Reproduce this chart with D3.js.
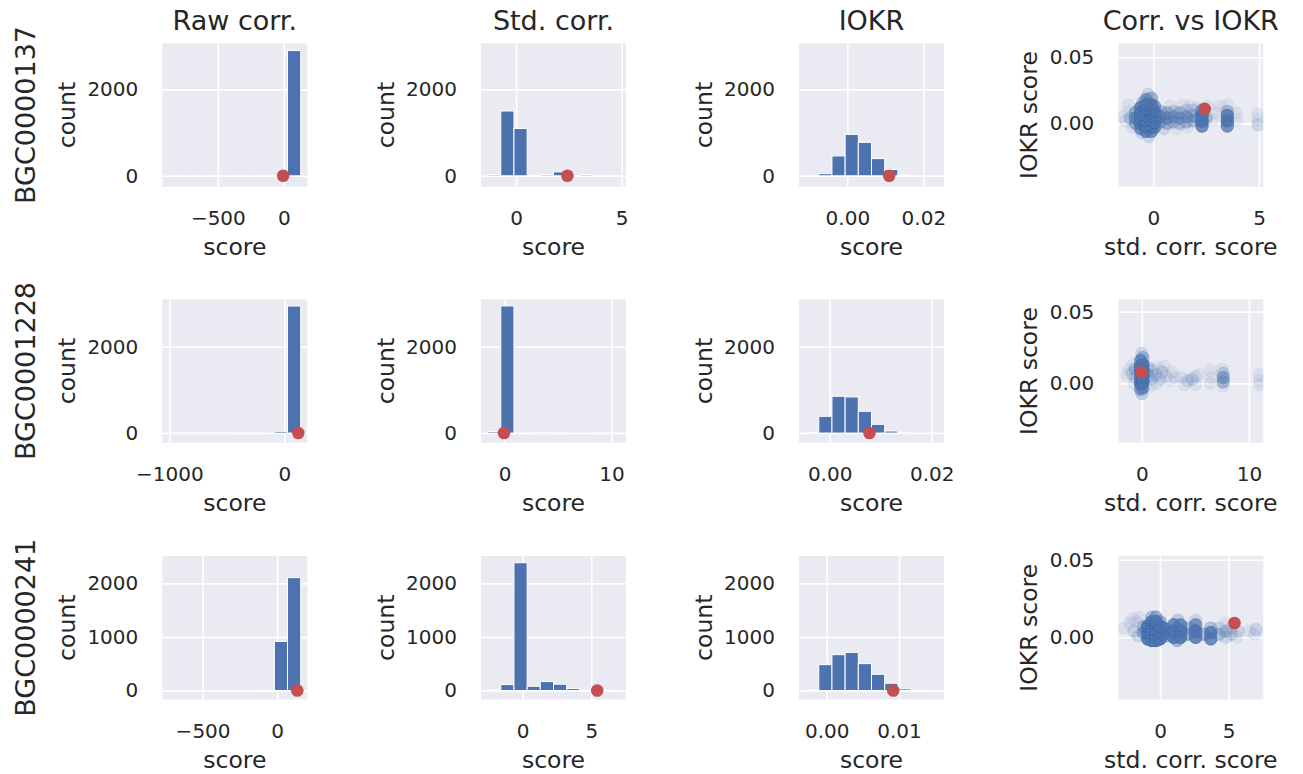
<!DOCTYPE html>
<html>
<head>
<meta charset="utf-8">
<script src="https://cdn.jsdelivr.net/npm/d3@7"></script>
<style>
  body { margin: 0; background: #fff; }
  text { font-family: "DejaVu Sans", sans-serif; fill: #262626; }
</style>
</head>
<body>
<script>
//-----------------Data----------------

const rowNames = ["BGC0000137", "BGC0001228", "BGC0000241"];
const colTitles = ["Raw corr.", "Std. corr.", "IOKR", "Corr. vs IOKR"];

// histogram range [first edge, last edge] and counts of the 10 bins
const rawBins = [[-871, 128], [-1004, 141], [-726, 158]];
const rawCounts = [
  [2, 1, 1, 2, 1, 2, 3, 4, 8, 2900],
  [1, 1, 1, 1, 1, 2, 2, 3, 40, 2944],
  [1, 1, 1, 1, 2, 2, 3, 5, 917, 2106]
];
const stdBins = [[-1.35, 4.89], [-1.58, 10.73], [-2.56, 7.05]];
const stdCounts = [
  [30, 1500, 1096, 10, 30, 90, 5, 30, 2, 5],
  [35, 2946, 3, 2, 1, 2, 3, 6, 2, 1],
  [10, 111, 2384, 80, 167, 118, 37, 3, 5, 5]
];
const iokrBins = [[-0.0110, 0.0237], [-0.00471, 0.0211], [-0.00293, 0.01531]];
const iokrCounts = [
  [5, 50, 460, 958, 774, 398, 145, 20, 3, 2],
  [15, 388, 853, 837, 504, 202, 47, 10, 5, 3],
  [10, 483, 669, 712, 502, 303, 136, 31, 5, 3]
];

// scores of the highlighted pair
const rawMark = [-5, 120, 135];
const stdMark = [2.43, -0.05, 5.43];
const iokrMark = [0.011, 0.0078, 0.0092];

// axis limits and ticks
const countLim = [[-255, 3068], [-226, 3100], [-167, 2510]];
const iokrScoreLim = [[-0.048, 0.0606], [-0.0414, 0.0586], [-0.0401, 0.0524]];
const rawTicks = [[-500, 0], [-1000, 0], [-500, 0]];
const stdTicks = [[0, 5], [0, 10], [0, 5]];
const iokrTicks = [[0, 0.02], [0, 0.02], [0, 0.01]];
const countTicks = [[0, 2000], [0, 2000], [0, 1000, 2000]];
const iokrScoreTicks = [0, 0.05];

// scatter: [std. corr. score, IOKR score, number of overlapping pairs]
const pairs137 = [
  [-0.85, 0.000, 6], [-0.85, 0.004, 8], [-0.85, 0.008, 6],
  [-0.6, -0.004, 10], [-0.6, 0.000, 20], [-0.6, 0.004, 25], [-0.6, 0.008, 25], [-0.6, 0.012, 15],
  [-0.35, -0.006, 12], [-0.35, -0.002, 25], [-0.35, 0.002, 30], [-0.35, 0.006, 30], [-0.35, 0.010, 30], [-0.35, 0.014, 20], [-0.35, 0.018, 8],
  [-0.1, -0.006, 12], [-0.1, -0.002, 25], [-0.1, 0.002, 30], [-0.1, 0.006, 30], [-0.1, 0.010, 25], [-0.1, 0.014, 15], [-0.1, 0.019, 6],
  [0.05, -0.003, 12], [0.05, 0.001, 20], [0.05, 0.005, 20], [0.05, 0.009, 15], [0.05, 0.013, 8],
  [-0.25, 0.022, 2], [-0.2, -0.010, 2], [-0.5, 0.016, 3], [-0.55, -0.007, 2],
  [-1.1, 0.004, 3], [-1.15, 0.009, 1], [-1.3, 0.002, 1], [-1.45, 0.005, 1], [-1.2, 0.014, 1], [-1.0, -0.003, 1],
  [0.35, 0.001, 6], [0.35, 0.005, 8], [0.35, 0.009, 4],
  [0.65, 0.000, 4], [0.65, 0.004, 6], [0.65, 0.008, 4],
  [0.95, 0.001, 4], [0.95, 0.005, 5], [0.95, 0.009, 3],
  [1.25, 0.000, 3], [1.25, 0.004, 5], [1.25, 0.008, 4],
  [1.55, 0.001, 4], [1.55, 0.005, 5], [1.55, 0.010, 2],
  [1.85, 0.002, 4], [1.85, 0.006, 4], [1.85, 0.010, 2],
  [0.8, 0.013, 1], [1.4, 0.014, 1], [1.75, 0.013, 1], [1.1, -0.004, 1], [0.5, -0.004, 2], [1.6, -0.003, 1],
  [2.3, -0.002, 14], [2.3, 0.002, 20], [2.3, 0.006, 20], [2.3, 0.010, 8], [2.1, 0.004, 4], [2.5, 0.004, 4], [2.55, 0.013, 1], [2.1, 0.012, 1],
  [3.5, -0.002, 12], [3.5, 0.002, 18], [3.5, 0.006, 14], [3.5, 0.009, 4], [3.0, 0.008, 1], [3.15, 0.013, 1],
  [3.95, 0.003, 1], [3.9, 0.008, 1], [3.5, 0.014, 1], [2.8, 0.003, 1],
  [4.95, -0.001, 2], [4.95, 0.003, 1], [4.95, 0.007, 1]
];
const pairs1228 = [
  [-0.1, -0.004, 8], [-0.1, 0.000, 25], [-0.1, 0.004, 30], [-0.1, 0.008, 30], [-0.1, 0.012, 25], [-0.1, 0.016, 10],
  [0.1, -0.003, 8], [0.1, 0.001, 25], [0.1, 0.005, 30], [0.1, 0.009, 30], [0.1, 0.013, 20], [0.1, 0.018, 5],
  [0.0, 0.021, 2], [0.0, -0.007, 3],
  [-0.6, 0.010, 3], [-0.6, 0.004, 2], [-0.9, 0.007, 2], [-1.2, 0.010, 1], [-1.4, 0.006, 1], [-0.8, 0.013, 1], [-0.7, 0.000, 1],
  [0.6, 0.006, 3], [0.6, 0.011, 2], [0.9, 0.003, 2], [1.0, 0.009, 2], [1.3, 0.006, 2], [1.5, 0.011, 1], [1.7, 0.003, 2],
  [1.9, 0.008, 2], [2.1, 0.012, 1], [2.3, 0.005, 1], [2.6, 0.002, 1], [2.8, 0.008, 1], [3.1, 0.004, 1], [0.8, -0.002, 1], [1.4, 0.000, 1],
  [4.0, -0.001, 1], [4.3, 0.002, 2], [4.7, 0.003, 2], [5.0, 0.005, 1], [5.3, 0.006, 1], [5.0, -0.001, 1], [3.7, 0.004, 1],
  [6.4, 0.009, 1], [6.4, 0.000, 1], [6.5, 0.004, 1],
  [7.6, 0.001, 5], [7.6, 0.004, 6], [7.6, 0.007, 3], [7.5, 0.010, 1], [7.6, -0.002, 1],
  [11.0, 0.006, 1], [11.0, 0.002, 1], [11.0, -0.001, 1]
];
const pairs241 = [
  [-1.2, 0.003, 6], [-1.2, 0.007, 4],
  [-0.9, -0.001, 18], [-0.9, 0.003, 28], [-0.9, 0.007, 22],
  [-0.6, -0.002, 28], [-0.6, 0.002, 30], [-0.6, 0.006, 30], [-0.6, 0.010, 18], [-0.6, 0.013, 4],
  [-0.3, -0.002, 28], [-0.3, 0.002, 30], [-0.3, 0.006, 30], [-0.3, 0.010, 22], [-0.3, 0.013, 6],
  [0.0, -0.001, 22], [0.0, 0.003, 28], [0.0, 0.007, 22], [0.0, 0.010, 6],
  [0.25, 0.002, 10], [0.25, 0.006, 8],
  [0.6, 0.001, 6], [0.6, 0.005, 6], [1.0, 0.000, 14], [1.0, 0.004, 20], [1.0, 0.008, 12],
  [1.5, 0.000, 16], [1.5, 0.004, 20], [1.5, 0.008, 12], [1.3, 0.011, 3], [1.25, -0.002, 6],
  [2.05, 0.002, 6], [2.05, 0.006, 4], [2.6, 0.000, 16], [2.6, 0.004, 20], [2.6, 0.008, 10], [2.6, 0.011, 2],
  [3.2, 0.002, 5], [3.7, -0.001, 14], [3.7, 0.003, 14], [3.7, 0.006, 4],
  [4.3, 0.002, 4], [4.3, 0.006, 2], [4.8, 0.000, 2], [4.8, 0.004, 3], [4.8, 0.009, 1],
  [5.2, 0.002, 2], [5.2, 0.006, 2], [5.7, 0.004, 2], [5.6, 0.000, 1],
  [6.5, 0.004, 1], [6.9, 0.002, 1], [7.0, 0.005, 2],
  [-2.6, 0.006, 1], [-2.2, 0.009, 1], [-1.9, 0.004, 2], [-1.6, 0.001, 2], [-1.7, 0.010, 1], [-2.0, 0.012, 1], [-1.5, 0.013, 1]
];
const pairs = [pairs137, pairs1228, pairs241];

//-----------------Layout----------------

const width = 1303;
const height = 774;
const panelW = 145;
const panelH = 143.5;
const colLeft = [162.3, 481, 799, 1118.3];
const rowTop = [43.3, 299.3, 556];
const blue = "#4c72b0";
const red = "#c44e52";

const svg = d3.select("body").append("svg").attr("width", width).attr("height", height);

// matplotlib style 5% margin around the data range
const withMargin = (r) => [r[0] - 0.05 * (r[1] - r[0]), r[1] + 0.05 * (r[1] - r[0])];

function makePanel(row, col) {
  const g = svg.append("g").attr("transform", "translate(" + colLeft[col] + "," + rowTop[row] + ")");
  const id = "clip-" + row + "-" + col;
  g.append("clipPath").attr("id", id).append("rect").attr("width", panelW).attr("height", panelH);
  g.append("rect").attr("width", panelW).attr("height", panelH).attr("fill", "#eaeaf2");
  g.clip = "url(#" + id + ")";
  return g;
}

function drawAxes(g, x, y, xTicks, xFmt, yTicks, yFmt, xLabel, yLabel, yLabelX) {
  const xAxis = d3.axisBottom(x).tickValues(xTicks).tickFormat(xFmt).tickSizeInner(-panelH).tickSizeOuter(0).tickPadding(24);
  const yAxis = d3.axisLeft(y).tickValues(yTicks).tickFormat(yFmt).tickSizeInner(-panelW).tickSizeOuter(0).tickPadding(24);

  [g.append("g").attr("transform", "translate(0," + panelH + ")").call(xAxis),
   g.append("g").call(yAxis)].forEach((a) => {
    a.select(".domain").remove();
    a.selectAll("line").attr("stroke", "#fff").attr("stroke-width", 1.6);
    a.selectAll("text").style("font-size", "20px").attr("fill", "#262626").style("font-family", "DejaVu Sans");
  });

  g.append("text")
    .text(xLabel)
    .attr("x", panelW / 2)
    .attr("y", panelH + 68)
    .style("text-anchor", "middle")
    .style("font-size", "23.5px");

  g.append("text")
    .text(yLabel)
    .attr("transform", "translate(" + yLabelX + "," + panelH / 2 + ") rotate(-90)")
    .style("text-anchor", "middle")
    .style("font-size", "23.5px");
}

function histPanel(row, col, bins, counts, xTicks, xFmt, mark) {
  const g = makePanel(row, col);
  const x = d3.scaleLinear().domain(withMargin(bins)).range([0, panelW]);
  const y = d3.scaleLinear().domain(countLim[row]).range([panelH, 0]);
  drawAxes(g, x, y, xTicks, xFmt, countTicks[row], d3.format("d"), "score", "count", -87);

  const step = (bins[1] - bins[0]) / counts.length;
  const edge = (i) => bins[0] + i * step;

  const marks = g.append("g").attr("clip-path", g.clip);
  marks
    .selectAll("rect")
    .data(counts)
    .enter()
    .append("rect")
    .attr("x", (d, i) => x(edge(i)))
    .attr("width", (d, i) => x(edge(i + 1)) - x(edge(i)))
    .attr("y", (d) => y(d))
    .attr("height", (d) => y(0) - y(d))
    .attr("fill", blue)
    .attr("stroke", "#fff")
    .attr("stroke-width", 1);

  marks.append("circle").attr("cx", x(mark)).attr("cy", y(0)).attr("r", 6.3).attr("fill", red);
}

function scatterPanel(row) {
  const g = makePanel(row, 3);
  const x = d3.scaleLinear().domain(withMargin(stdBins[row])).range([0, panelW]);
  const y = d3.scaleLinear().domain(iokrScoreLim[row]).range([panelH, 0]);
  drawAxes(g, x, y, stdTicks[row], d3.format("d"), iokrScoreTicks, d3.format(".2f"), "std. corr. score", "IOKR score", -81.6);

  // every pair is one faint circle, so a point seen n times is drawn n times
  const expanded = [];
  pairs[row].forEach((p) => {
    for (let k = 0; k < p[2]; k++) expanded.push(p);
  });

  const marks = g.append("g").attr("clip-path", g.clip);
  marks
    .selectAll("circle.pair")
    .data(expanded)
    .enter()
    .append("circle")
    .attr("class", "pair")
    .attr("cx", (d) => x(d[0]))
    .attr("cy", (d) => y(d[1]))
    .attr("r", 6.3)
    .attr("fill", blue)
    .attr("fill-opacity", 0.1)
    .attr("stroke", blue)
    .attr("stroke-opacity", 0.08)
    .attr("stroke-width", 0.7);

  marks.append("circle").attr("cx", x(stdMark[row])).attr("cy", y(iokrMark[row])).attr("r", 6.3).attr("fill", red);
}

//-----------------Panels----------------

rowNames.forEach((name, row) => {
  histPanel(row, 0, rawBins[row], rawCounts[row], rawTicks[row], d3.format("d"), rawMark[row]);
  histPanel(row, 1, stdBins[row], stdCounts[row], stdTicks[row], d3.format("d"), stdMark[row]);
  histPanel(row, 2, iokrBins[row], iokrCounts[row], iokrTicks[row], d3.format(".2f"), iokrMark[row]);
  scatterPanel(row);

  svg
    .append("text")
    .text(name)
    .attr("transform", "translate(35," + (rowTop[row] + panelH / 2) + ") rotate(-90)")
    .style("text-anchor", "middle")
    .style("font-size", "27px");
});

//-----------------Titles----------------

colTitles.forEach((t, col) => {
  svg
    .append("text")
    .text(t)
    .attr("x", colLeft[col] + panelW / 2)
    .attr("y", 30)
    .style("text-anchor", "middle")
    .style("font-size", "27px");
});
</script>
</body>
</html>
